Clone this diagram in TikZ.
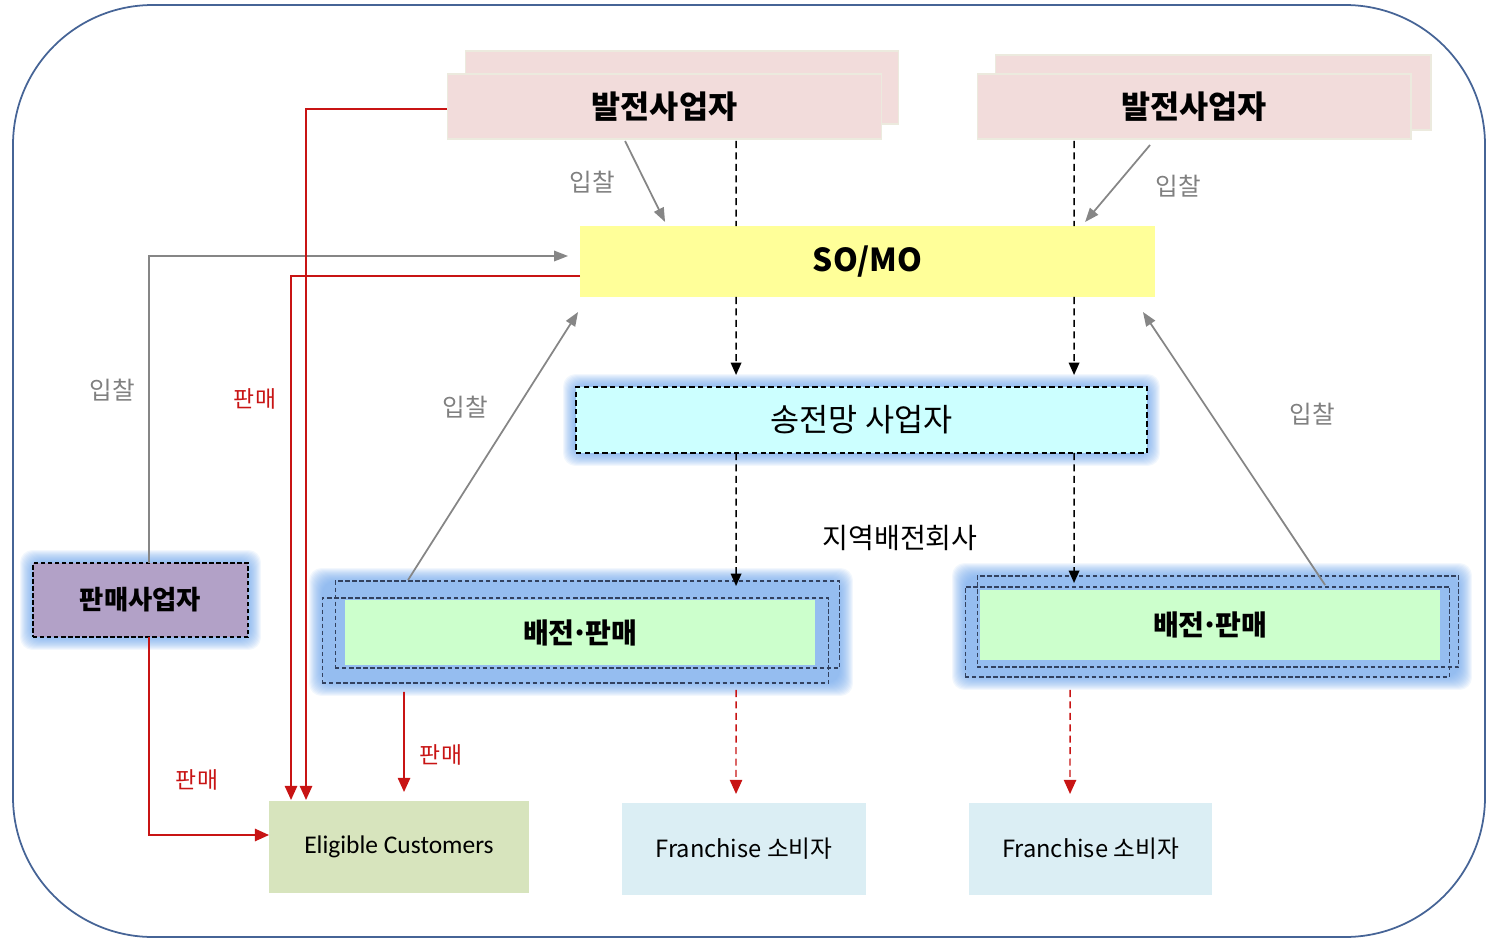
\documentclass[tikz,border=0pt]{standalone}
\usepackage{fontspec}
\setmainfont{Noto Sans CJK KR}
\newfontfamily\carlito{Carlito}
\usetikzlibrary{arrows.meta,calc}
\pgfdeclarelayer{background}
\pgfsetlayers{background,main}
\definecolor{genpink}{RGB}{242,220,219}
\definecolor{genedge}{RGB}{236,234,222}
\definecolor{somoyel}{RGB}{255,255,153}
\definecolor{transcyan}{RGB}{204,255,255}
\definecolor{distgreen}{RGB}{204,255,204}
\definecolor{sellpurple}{RGB}{178,161,199}
\definecolor{eliggreen}{RGB}{215,228,189}
\definecolor{franblue}{RGB}{219,238,244}
\definecolor{glowblue}{RGB}{110,165,235}
\definecolor{frameblue}{RGB}{70,100,150}
\definecolor{salered}{RGB}{200,20,20}
\definecolor{dashedge}{RGB}{50,65,95}
\newcommand{\middot}{\kern-0.12em·\kern-0.12em}
\begin{document}
\begin{tikzpicture}[x=0.02cm,y=-0.02cm,
    box/.style={rectangle, inner sep=0pt, outer sep=0pt},
    genbox/.style={box, fill=genpink, draw=genedge, line width=0.6pt, font=\fontsize{18}{20}\selectfont\bfseries},
    dashbox/.style={box, draw=dashedge, line width=0.6pt, dash pattern=on 2.5pt off 1.5pt},
    bid/.style={gray!95, line width=1pt, -{Triangle[length=8pt,width=6pt]}},
    sale/.style={salered, line width=1pt, -{Triangle[length=8pt,width=7pt]}},
    flow/.style={black, line width=0.8pt, dash pattern=on 4pt off 2.5pt},
    saleflow/.style={salered, line width=0.8pt, dash pattern=on 4pt off 2.5pt},
    bidlabel/.style={text=gray, font=\fontsize{14}{16}\selectfont},
    salelabel/.style={text=salered, font=\fontsize{13}{15}\selectfont}]
  \useasboundingbox (0,0) rectangle (1487,939);
  % outer frame
  \draw[frameblue, line width=1pt, rounded corners=2.8cm] (13,5) rectangle (1485,937);

  % generators
  \node[genbox, minimum width=8.68cm, minimum height=1.46cm] (gen1b) at (682,87.5) {};
  \node[genbox, minimum width=8.7cm, minimum height=1.3cm] (gen1) at (664.5,106.5) {발전사업자};
  \node[genbox, minimum width=8.72cm, minimum height=1.5cm] (gen2b) at (1213,92.5) {};
  \node[genbox, minimum width=8.68cm, minimum height=1.3cm] (gen2) at (1194,106.5) {발전사업자};

  % market operator and grid
  \node[box, fill=somoyel, minimum width=11.5cm, minimum height=1.42cm,
        font=\fontsize{18}{20}\selectfont\bfseries] (somo) at (867.5,261.5) {SO/MO};
  \node[box, fill=transcyan, draw=black, line width=0.8pt, dash pattern=on 3pt off 2pt,
        minimum width=11.42cm, minimum height=1.32cm,
        font=\fontsize{18}{20}\selectfont] (trans) at (861.5,420) {송전망 사업자};

  % distribution companies
  \node[box, fill=distgreen, minimum width=9.4cm, minimum height=1.3cm,
        font=\fontsize{16}{18}\selectfont\bfseries] (dist1) at (580,632.5) {배전\middot 판매};
  \node[dashbox, minimum width=10.1cm, minimum height=1.74cm] (dist1b) at (587.5,624.5) {};
  \node[dashbox, minimum width=10.14cm, minimum height=1.7cm] (dist1f) at (575.5,640.5) {};
  \node[box, fill=distgreen, minimum width=9.2cm, minimum height=1.4cm,
        font=\fontsize{16}{18}\selectfont\bfseries] (dist2) at (1210,625) {배전\middot 판매};
  \node[dashbox, minimum width=9.64cm, minimum height=1.82cm] (dist2b) at (1218,621.5) {};
  \node[dashbox, minimum width=9.7cm, minimum height=1.8cm] (dist2f) at (1207.5,632) {};

  % retailer
  \node[box, fill=sellpurple, draw=black, line width=0.8pt, dash pattern=on 2.5pt off 1.5pt,
        minimum width=4.3cm, minimum height=1.48cm,
        font=\fontsize{15}{17}\selectfont\bfseries] (sell) at (140.5,600) {판매사업자};

  % customers
  \node[box, fill=eliggreen, minimum width=5.2cm, minimum height=1.84cm,
        font=\carlito\fontsize{14.5}{16}\selectfont] (elig) at (399,847) {Eligible Customers};
  \node[box, fill=franblue, minimum width=4.88cm, minimum height=1.84cm,
        font=\fontsize{13.5}{15}\selectfont] (fran1) at (744,849) {Franchise 소비자};
  \node[box, fill=franblue, minimum width=4.86cm, minimum height=1.84cm,
        font=\fontsize{13.5}{15}\selectfont] (fran2) at (1090.5,849) {Franchise 소비자};

  % glow behind the dashed boxes
  \begin{pgfonlayer}{background}
    \foreach \a/\b in {trans/trans, sell/sell, dist1f/dist1b, dist2f/dist2b}
      \foreach \g in {0,...,13}
        \fill[glowblue, opacity=0.09, rounded corners=0.25cm]
          ($(\a.south west)+(-\g,\g)$) rectangle ($(\b.north east)+(\g,-\g)$);
  \end{pgfonlayer}

  % power flow
  \draw[flow] ($(gen1.south west)+(289,2)$) -- ($(somo.north west)+(156,0)$);
  \draw[flow,-{Triangle[length=7pt,width=6pt]}] ($(somo.south west)+(156,0)$) -- ($(trans.north west)+(160,-12)$);
  \draw[flow,-{Triangle[length=7pt,width=6pt]}] ($(trans.south west)+(160,0)$) -- ($(dist1b.north west)+(401,5)$);
  \draw[flow] ($(gen2.south west)+(97,2)$) -- ($(somo.north west)+(494,0)$);
  \draw[flow,-{Triangle[length=7pt,width=6pt]}] ($(somo.south west)+(494,0)$) -- ($(trans.north west)+(498,-12)$);
  \draw[flow,-{Triangle[length=7pt,width=6pt]}] ($(trans.south west)+(498,0)$) -- ($(dist2b.north west)+(97,7)$);
  \node (region) at (900,538) {\fontsize{16}{18}\selectfont 지역배전회사};

  % bidding
  \draw[bid] ($(gen1.south west)+(178,2)$) -- ($(somo.north west)+(85,-4)$);
  \draw[bid] ($(gen2.south west)+(173,6)$) -- ($(somo.north west)+(505,-4)$);
  \draw[bid] ($(dist1b.north west)+(73,-1)$) -- ($(somo.south west)+(-2,15)$);
  \draw[bid] ($(dist2b.north west)+(348,9)$) -- ($(somo.south east)+(-12,15)$);
  \draw[bid] ($(sell.north)+(8.5,0)$) |- ($(somo.north west)+(-12,30)$);
  \node[bidlabel] (bid1) at (592,182) {입찰};
  \node[bidlabel] (bid2) at (1178,186) {입찰};
  \node[bidlabel] (bid3) at (465,407) {입찰};
  \node[bidlabel] (bid4) at (1312,414) {입찰};
  \node[bidlabel] (bid5) at (112,390) {입찰};

  % sales
  \draw[sale] ($(gen1.west)+(0,2.5)$) -| ($(elig.north west)+(37,-1)$);
  \draw[sale] ($(somo.west)+(0,14.5)$) -| ($(elig.north west)+(22,-1)$);
  \draw[sale] ($(sell.south)+(8.5,0)$) |- ($(elig.west)+(0,-12)$);
  \draw[sale] ($(dist1f.south west)+(82,9)$) -- ($(elig.north west)+(135,-9)$);
  \draw[saleflow,-{Triangle[length=8pt,width=7pt]}] ($(dist1f.south west)+(414,7)$) -- ($(fran1.north west)+(114,-9)$);
  \draw[saleflow,-{Triangle[length=8pt,width=7pt]}] ($(dist2f.south west)+(105,13)$) -- ($(fran2.north west)+(101,-9)$);
  \node[salelabel] (sale1) at (255,399) {판매};
  \node[salelabel] (sale2) at (197,780) {판매};
  \node[salelabel] (sale3) at (441,755) {판매};
\end{tikzpicture}
\end{document}
